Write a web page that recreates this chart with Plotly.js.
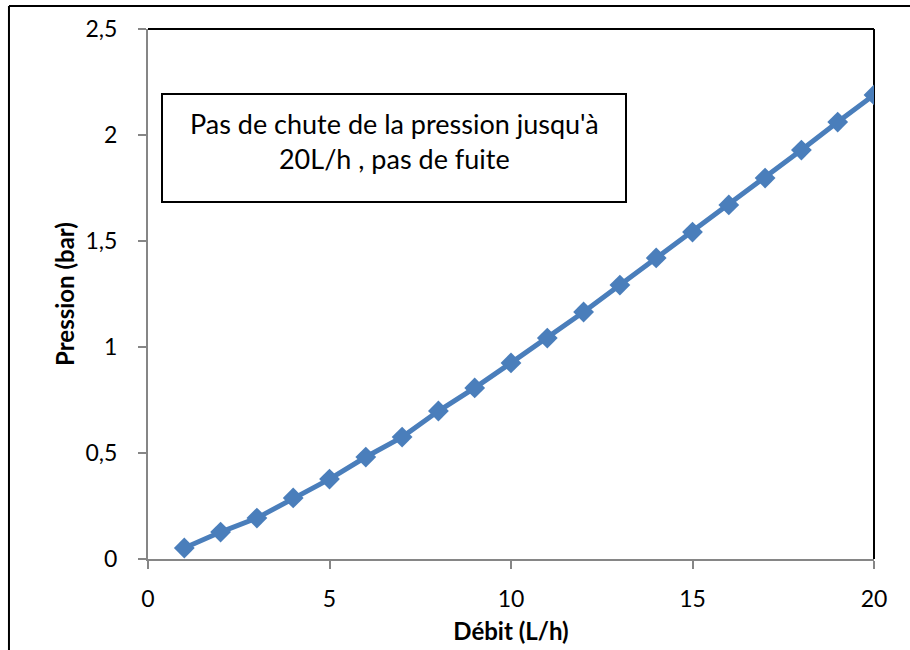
<!DOCTYPE html>
<html>
<head>
<meta charset="utf-8">
<script src="https://cdn.plot.ly/plotly-3.0.1.min.js"></script>
<style>
html,body{margin:0;padding:0;background:#fff;}
#chart{width:910px;height:650px;}
</style>
</head>
<body>
<div id="chart"></div>
<script>
const debit = [1,2,3,4,5,6,7,8,9,10,11,12,13,14,15,16,17,18,19,20];
const pression = [0.052,0.127,0.193,0.288,0.377,0.481,0.575,0.698,0.807,0.925,1.042,1.165,1.292,1.42,1.542,1.67,1.797,1.929,2.061,2.189];
const xTitle = "Débit (L/h)";
const yTitle = "Pression (bar)";
const noteText = "Pas de chute de la pression jusqu'à<br>20L/h , pas de fuite";

const font = "Lato, 'Open Sans', sans-serif";
const trace = {
  x: debit, y: pression, type: 'scatter', mode: 'lines+markers',
  line: {color: '#4a7ebb', width: 5},
  marker: {symbol: 'diamond', size: 16, color: '#4a7ebb'},
  showlegend: false, hoverinfo: 'skip'
};
const layout = {
  width: 910, height: 650,
  margin: {l: 148, r: 36, t: 29, b: 91},
  paper_bgcolor: '#fff', plot_bgcolor: '#fff',
  separators: ', ',
  font: {family: font, size: 23, color: '#000'},
  xaxis: {
    range: [0, 20], tickvals: [0,5,10,15,20], ticktext: ['0','5','10','15','20'],
    showgrid: false, zeroline: false,
    showline: true, linecolor: '#868686', linewidth: 2,
    ticks: 'outside', ticklen: 8, tickwidth: 2, tickcolor: '#868686',
    ticklabelstandoff: 10,
    tickfont: {family: font, size: 23, color: '#000'},
    title: {text: xTitle, font: {family: font, size: 24, color: '#000', weight: 'bold'}, standoff: 13}
  },
  yaxis: {
    range: [0, 2.5], tickvals: [0,0.5,1,1.5,2,2.5], ticktext: ['0','0,5','1','1,5','2','2,5'],
    showgrid: false, zeroline: false,
    showline: true, linecolor: '#868686', linewidth: 2,
    ticks: 'outside', ticklen: 8, tickwidth: 2, tickcolor: '#868686',
    ticklabelstandoff: 16,
    tickfont: {family: font, size: 23, color: '#000'},
    title: {text: yTitle, font: {family: font, size: 24, color: '#000', weight: 'bold'}, standoff: 4}
  },
  shapes: [
    {type: 'line', xref: 'paper', yref: 'paper', x0: 0, x1: 1, y0: 1, y1: 1, line: {color: '#000', width: 2}, layer: 'below'},
    {type: 'line', xref: 'paper', yref: 'paper', x0: 1, x1: 1, y0: 0, y1: 1, line: {color: '#000', width: 2}, layer: 'below'},
    {type: 'line', xref: 'paper', yref: 'paper', x0: -0.1915, x1: -0.1915, y0: 1.0434, y1: -0.3, line: {color: '#000', width: 2}},
    {type: 'line', xref: 'paper', yref: 'paper', x0: -0.1915, x1: 1.1, y0: 1.0434, y1: 1.0434, line: {color: '#000', width: 2}},
    {type: 'rect', xref: 'paper', yref: 'paper', x0: (162-148)/726, x1: (626-148)/726, y0: (559-202)/530, y1: (559-94)/530, line: {color: '#000', width: 2}, fillcolor: '#fff', layer: 'below'}
  ],
  annotations: [
    {xref: 'paper', yref: 'paper', x: (394-148)/726, y: (559-141)/530, text: noteText, showarrow: false,
     font: {family: font, size: 27, color: '#000'}, align: 'center', xanchor: 'center', yanchor: 'middle'}
  ]
};
Plotly.newPlot('chart', [trace], layout, {displayModeBar: false, staticPlot: true});
</script>
</body>
</html>
